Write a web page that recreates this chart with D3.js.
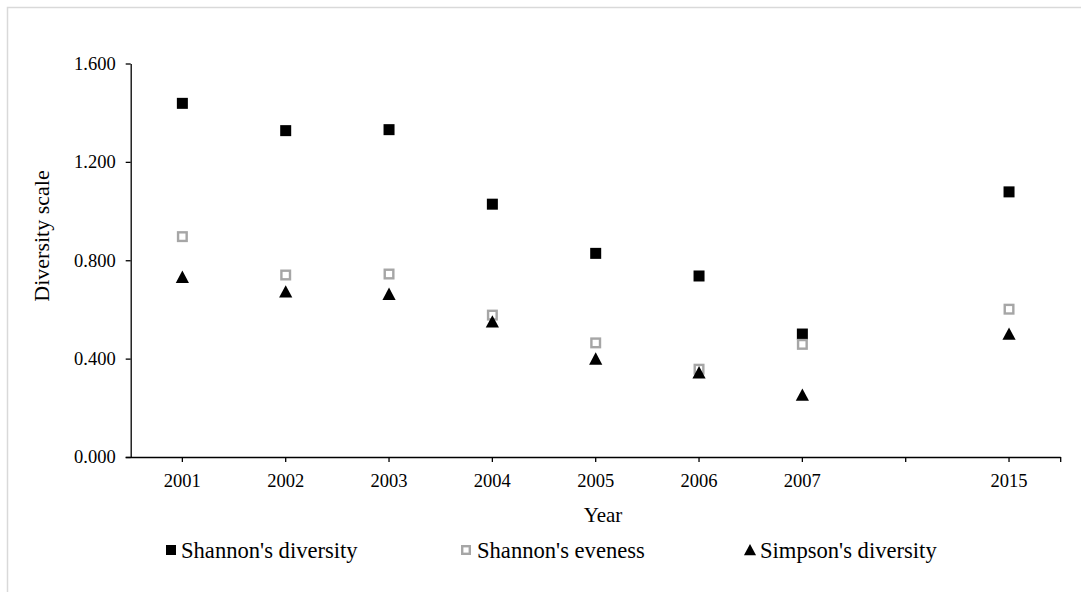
<!DOCTYPE html>
<html>
<head>
<meta charset="utf-8">
<script src="https://cdn.jsdelivr.net/npm/d3@7"></script>
<style>
  html, body { margin: 0; padding: 0; background: #fff; }
  svg { display: block; }
  svg text { font-family: "Liberation Serif", "Times New Roman", serif; }
</style>
</head>
<body>
<svg id="chart" width="1081" height="592"></svg>
<script>
// ---- data ----
const categories = ["2001", "2002", "2003", "2004", "2005", "2006", "2007", "", "2015"];
const shannonDiversity = [1.438, 1.327, 1.331, 1.028, 0.828, 0.736, 0.500, null, 1.078];
const shannonEveness   = [0.896, 0.740, 0.744, 0.577, 0.464, 0.357, 0.458, null, 0.601];
const simpsonDiversity = [0.731, 0.672, 0.662, 0.550, 0.399, 0.343, 0.252, null, 0.500];
const yTicks = [0, 0.4, 0.8, 1.2, 1.6];
const seriesNames = ["Shannon's diversity", "Shannon's eveness", "Simpson's diversity"];

const FONT = "Liberation Serif, Times New Roman, serif";
const svg = d3.select("#chart");

// outer border
svg.append("rect")
  .attr("x", 7.5).attr("y", 7.5).attr("width", 1200).attr("height", 700)
  .attr("fill", "none").attr("stroke", "#d9d9d9").attr("stroke-width", 1.5);

const plot = { left: 130.7, right: 1060.7, top: 63.5, bottom: 457 };

const x = d3.scaleBand().domain(categories).range([plot.left, plot.right]).padding(0);
const y = d3.scaleLinear().domain([0, 1.6]).range([plot.bottom, plot.top]);
const cx = c => x(c) + x.bandwidth() / 2;

// y axis
const yAxis = svg.append("g")
  .attr("transform", `translate(${plot.left},0)`)
  .call(d3.axisLeft(y).tickValues(yTicks).tickFormat(d3.format(".3f")).tickSize(5).tickSizeOuter(0).tickPadding(10));
yAxis.attr("font-family", FONT);
yAxis.select(".domain").attr("stroke", "#000").attr("stroke-width", 1.3);
yAxis.selectAll(".tick line").attr("stroke", "#000").attr("stroke-width", 1.3);
yAxis.selectAll(".tick text").attr("font-size", "18.5px").attr("fill", "#000").attr("font-family", FONT);

// x axis
const xAxis = svg.append("g")
  .attr("transform", `translate(0,${plot.bottom})`)
  .call(d3.axisBottom(x).tickSize(5).tickSizeOuter(0).tickPadding(12));
xAxis.attr("font-family", FONT);
xAxis.select(".domain").attr("stroke", "#000").attr("stroke-width", 1.3)
  .attr("d", `M${plot.left - 5},0.5H${plot.right}`);
xAxis.selectAll(".tick line").attr("stroke", "#000").attr("stroke-width", 1.3);
xAxis.selectAll(".tick text").attr("font-size", "18.5px").attr("fill", "#000").attr("font-family", FONT);
// end tick at the right end of the category axis
xAxis.append("line")
  .attr("x1", x.range()[1]).attr("x2", x.range()[1])
  .attr("y1", 0).attr("y2", 5)
  .attr("stroke", "#000").attr("stroke-width", 1.3);

// axis titles
svg.append("text")
  .attr("transform", `translate(49,236) rotate(-90)`)
  .attr("text-anchor", "middle")
  .attr("font-family", FONT)
  .attr("font-size", "22px").attr("fill", "#000")
  .text("Diversity scale");
svg.append("text")
  .attr("x", 603).attr("y", 522)
  .attr("text-anchor", "middle")
  .attr("font-family", FONT)
  .attr("font-size", "21px").attr("fill", "#000")
  .text("Year");

// marker makers
const triPath = (s) => `M0,${-s * 0.55}L${s * 0.55},${s * 0.48}L${-s * 0.55},${s * 0.48}Z`;

function drawSquare(g, px, py, s) {
  g.append("rect").attr("x", px - s / 2).attr("y", py - s / 2)
    .attr("width", s).attr("height", s).attr("fill", "#000");
}
function drawHollow(g, px, py, s) {
  g.append("rect").attr("x", px - s / 2).attr("y", py - s / 2)
    .attr("width", s).attr("height", s).attr("fill", "#fff")
    .attr("stroke", "#a6a6a6").attr("stroke-width", 2.4);
}
function drawTri(g, px, py, s) {
  g.append("path").attr("d", triPath(s)).attr("transform", `translate(${px},${py})`)
    .attr("fill", "#000");
}

const marks = svg.append("g");
const gS = marks.append("g"), gE = marks.append("g"), gT = marks.append("g");
gS.selectAll("rect").data(categories.map((c, i) => ({ c, v: shannonDiversity[i] })).filter(d => d.v != null))
  .join("rect")
  .attr("x", d => cx(d.c) - 5.5).attr("y", d => y(d.v) - 5.5)
  .attr("width", 11).attr("height", 11).attr("fill", "#000");
gE.selectAll("rect").data(categories.map((c, i) => ({ c, v: shannonEveness[i] })).filter(d => d.v != null))
  .join("rect")
  .attr("x", d => cx(d.c) - 4.3).attr("y", d => y(d.v) - 4.3)
  .attr("width", 8.6).attr("height", 8.6).attr("fill", "#fff")
  .attr("stroke", "#a6a6a6").attr("stroke-width", 2.4);
gT.selectAll("path").data(categories.map((c, i) => ({ c, v: simpsonDiversity[i] })).filter(d => d.v != null))
  .join("path")
  .attr("d", triPath(12))
  .attr("transform", d => `translate(${cx(d.c)},${y(d.v)})`)
  .attr("fill", "#000");

// legend
const legend = svg.append("g").attr("font-family", FONT);
const legendItems = [
  { name: seriesNames[0], mx: 171, tx: 181, draw: (g, px, py) => drawSquare(g, px, py, 10) },
  { name: seriesNames[1], mx: 466, tx: 477, draw: (g, px, py) => drawHollow(g, px, py, 7.6) },
  { name: seriesNames[2], mx: 750, tx: 760, draw: (g, px, py) => drawTri(g, px, py, 11) }
];
legendItems.forEach(it => {
  it.draw(legend, it.mx, 550);
  legend.append("text").attr("x", it.tx).attr("y", 557.5)
    .attr("font-family", FONT)
    .attr("font-size", "22.6px").attr("fill", "#000").text(it.name);
});
</script>
</body>
</html>
